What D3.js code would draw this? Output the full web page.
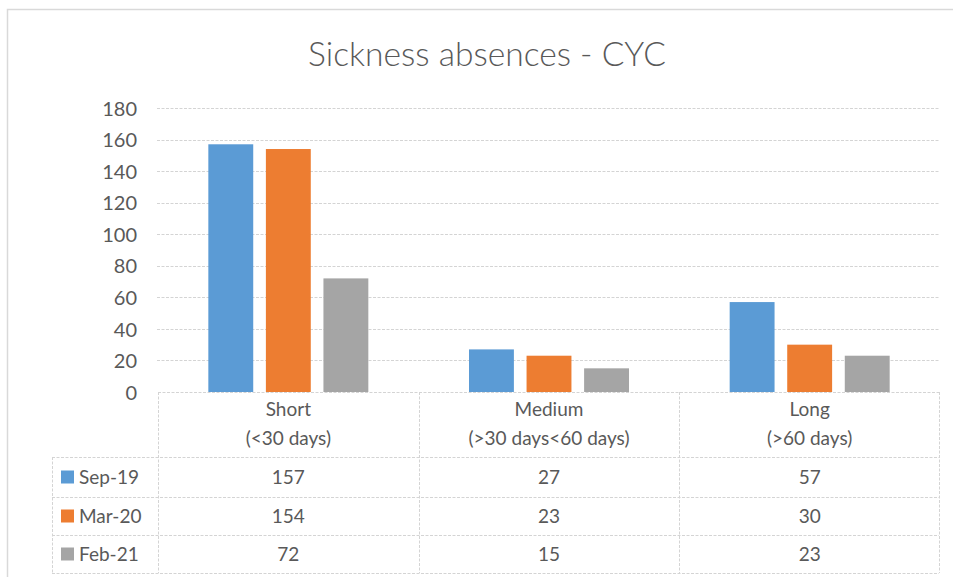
<!DOCTYPE html>
<html><head><meta charset="utf-8">
<script src="https://cdn.jsdelivr.net/npm/d3@7"></script>
<style>body{margin:0;background:#fff;}svg{display:block;font-family:Lato,"Open Sans",sans-serif;}</style>
</head><body>
<svg id="c" width="953" height="577"></svg>
<script>
const title = "Sickness absences - CYC";
const categories = ["Short", "Medium", "Long"];
const categorySub = ["(<30 days)", "(>30 days<60 days)", "(>60 days)"];
const seriesNames = ["Sep-19", "Mar-20", "Feb-21"];
const sep19 = [157, 27, 57];
const mar20 = [154, 23, 30];
const feb21 = [72, 15, 23];
const yTicks = [0, 20, 40, 60, 80, 100, 120, 140, 160, 180];
const colors = ["#5b9bd5", "#ed7d31", "#a5a5a5"];

const seriesValues = [sep19, mar20, feb21];
const svg = d3.select("#c");
const textCol = "#595959";
const gridCol = "#d4d4d4";

// outer chart border
svg.append("rect").attr("x", 7.5).attr("y", 9.5).attr("width", 960).attr("height", 600)
  .attr("fill", "none").attr("stroke", "#d9d9d9").attr("stroke-width", 1.5);

// title
const t = svg.append("text").attr("x", 487).attr("y", 66).attr("text-anchor", "middle")
  .attr("fill", textCol).attr("font-weight", 300).attr("font-size", 30).text(title);
const tw = t.node().getComputedTextLength();
t.attr("font-size", 30 * 358 / tw);

const plotL = 158, plotR = 940, plotT = 108, plotB = 392;
const y = d3.scaleLinear().domain([0, 180]).range([plotB, plotT]);
const x0 = d3.scaleBand().domain(categories).range([plotL, plotR]).padding(0);
const x1 = d3.scaleBand().domain(seriesNames).range([0, 160]).paddingInner(0.22);
const groupOff = (x0.bandwidth() - 160) / 2;

// grid
svg.append("g").selectAll("line").data(yTicks.filter(d => d > 0)).join("line")
  .attr("x1", plotL - 1).attr("x2", plotR).attr("y1", d => Math.round(y(d)) + 0.5).attr("y2", d => Math.round(y(d)) + 0.5)
  .attr("stroke", gridCol).attr("stroke-dasharray", "3,1.5");

// y axis labels
const yAxis = d3.axisLeft(y).tickValues(yTicks).tickSize(0).tickPadding(0);
const ga = svg.append("g").attr("transform", `translate(137,0)`).call(yAxis);
ga.select(".domain").remove();
ga.selectAll("text").attr("fill", textCol).attr("font-size", 20).attr("font-family", "Lato, sans-serif").attr("dy", "0.36em");

// bars
const groups = svg.append("g").selectAll("g").data(categories).join("g")
  .attr("transform", c => `translate(${x0(c) + groupOff},0)`);
groups.selectAll("rect").data((c, i) => seriesNames.map((s, j) => ({s, v: seriesValues[j][i], j})))
  .join("rect")
  .attr("x", d => x1(d.s)).attr("width", x1.bandwidth())
  .attr("y", d => y(d.v)).attr("height", d => y(0) - y(d.v))
  .attr("fill", d => colors[d.j]);

// data table
const tableL = 52, tableR = 939;
const hTop = 392, hBot = 457;
const rowEdges = [457, 497, 535, 573];
const tl = svg.append("g").attr("stroke", gridCol).attr("stroke-dasharray", "3,1.5").attr("fill", "none");
// header horizontal top
tl.append("line").attr("x1", plotL).attr("x2", tableR).attr("y1", hTop + 0.5).attr("y2", hTop + 0.5);
rowEdges.forEach(e => tl.append("line").attr("x1", tableL).attr("x2", tableR).attr("y1", e + 0.5).attr("y2", e + 0.5));
// verticals
tl.append("line").attr("x1", tableL + 0.5).attr("x2", tableL + 0.5).attr("y1", hBot).attr("y2", 573);
[plotL, x0("Medium"), x0("Long"), tableR].forEach(xv =>
  tl.append("line").attr("x1", Math.round(xv) + 0.5).attr("x2", Math.round(xv) + 0.5).attr("y1", hTop).attr("y2", 573));

// header labels
categories.forEach((c, i) => {
  const cx = x0(c) + x0.bandwidth() / 2;
  svg.append("text").attr("x", cx).attr("y", 416).attr("text-anchor", "middle")
    .attr("fill", textCol).attr("font-size", 19).text(c);
  svg.append("text").attr("x", cx).attr("y", 445).attr("text-anchor", "middle")
    .attr("fill", textCol).attr("font-size", 19).text(categorySub[i]);
});

// rows
seriesNames.forEach((s, j) => {
  const cy = (rowEdges[j] + rowEdges[j + 1]) / 2;
  svg.append("rect").attr("x", 61).attr("y", cy - 6.5).attr("width", 13).attr("height", 13).attr("fill", colors[j]);
  svg.append("text").attr("x", 79).attr("y", cy + 7).attr("fill", textCol).attr("font-size", 19).text(s);
  categories.forEach((c, i) => {
    svg.append("text").attr("x", x0(c) + x0.bandwidth() / 2).attr("y", cy + 7).attr("text-anchor", "middle")
      .attr("fill", textCol).attr("font-size", 19).text(seriesValues[j][i]);
  });
});
</script>
</body></html>
